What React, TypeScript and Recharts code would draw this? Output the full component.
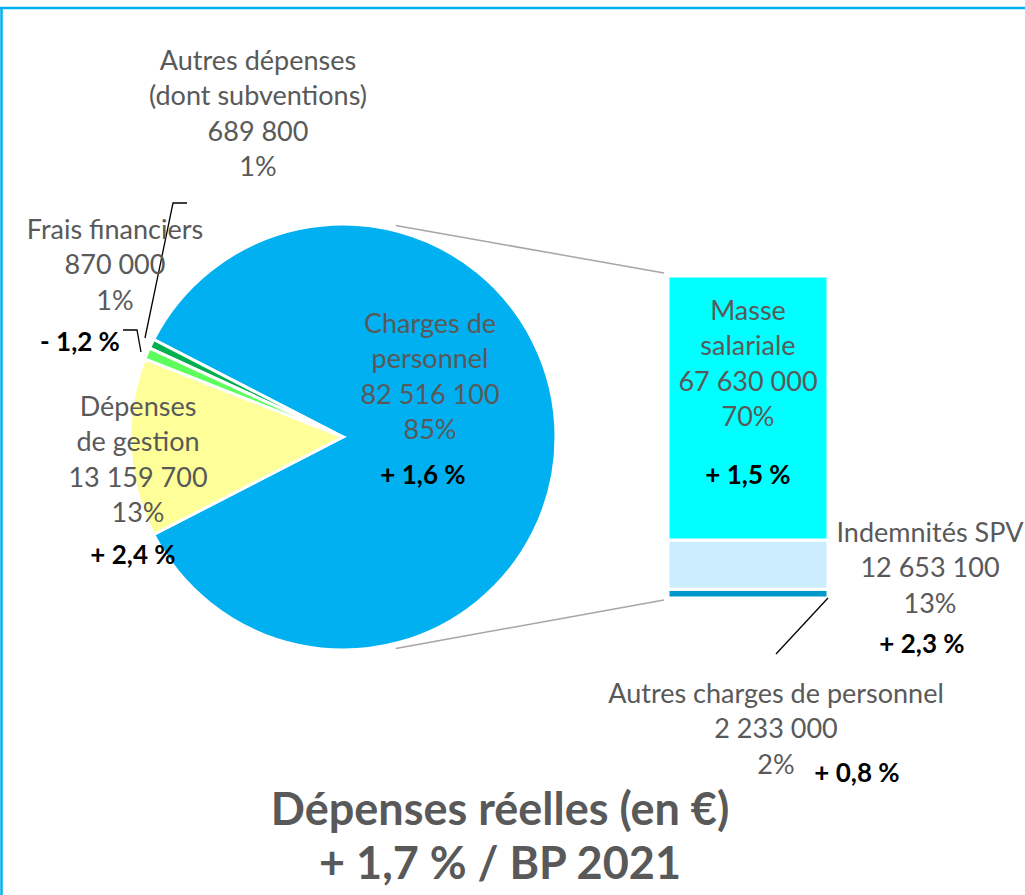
import React from 'react'
import { PieChart, Pie, Cell, BarChart, Bar, XAxis, YAxis } from 'recharts'

// pie: main breakdown
const pieNames = ['Charges de personnel', 'Autres dépenses', 'Frais financiers', 'Dépenses de gestion']
const pieValues = [82516100, 689800, 870000, 13159700]
const pieColors = ['#00B0F0', '#00B050', '#5CFF5C', '#FFFF99']

// bar: detail of "Charges de personnel"
const barNames = ['Autres charges de personnel', 'Indemnités SPV', 'Masse salariale']
const barValues = [2233000, 12653100, 67630000]
const barColors = ['#0099CC', '#CCECFF', '#00FFFF']

// label texts
const pieLabelLines = [
  ['Charges de', 'personnel', '82 516 100', '85%'],
  ['Autres dépenses', '(dont subventions)', '689 800', '1%'],
  ['Frais financiers', '870 000', '1%'],
  ['Dépenses', 'de gestion', '13 159 700', '13%'],
]
const pieEvolutions = ['+ 1,6 %', '', '- 1,2 %', '+ 2,4 %']
const barLabelLines = [
  ['Autres charges de personnel', '2 233 000', '2%'],
  ['Indemnités SPV', '12 653 100', '13%'],
  ['Masse', 'salariale', '67 630 000', '70%'],
]
const barEvolutions = ['+ 0,8 %', '+ 2,3 %', '+ 1,5 %']
const titleLines = ['Dépenses réelles (en €)', '+ 1,7 % / BP 2021']

const W = 1025
const H = 895
const CX = 343
const CY = 437
const R = 213
const BAR_X = 668
const BAR_Y = 276
const BAR_W = 160
const BAR_H = 322

const total = pieValues.reduce((a, b) => a + b, 0)
const mainSweep = (pieValues[0] / total) * 360
const START = -mainSweep / 2

const pieData = pieNames.map((name, i) => ({ name, value: pieValues[i] }))
const barData = [
  barNames.reduce((acc: any, n, i) => {
    acc['v' + i] = barValues[i]
    return acc
  }, { name: 'Charges de personnel' }),
]

// where the label blocks sit (centre x, first line y)
const pieLabelPos = [
  { x: 430, y: 322, ex: 423, ey: 474 },
  { x: 258, y: 59, ex: 0, ey: 0 },
  { x: 115, y: 228, ex: 80, ey: 341 },
  { x: 138, y: 405, ex: 133, ey: 554 },
]
const barLabelPos = [
  { x: 776, y: 692, ex: 857, ey: 772 },
  { x: 930, y: 531, ex: 922, ey: 643 },
  { x: 748, y: 309, ex: 748, ey: 474 },
]
const LINE = 35.5

const textGray = '#595959'
const font = 'Lato, "Open Sans", sans-serif'

function Block({ x, y, lines }: { x: number; y: number; lines: string[] }) {
  return (
    <>
      {lines.map((t, i) => (
        <text key={i} x={x} y={y + i * LINE} textAnchor="middle" dominantBaseline="central"
          fontSize={27} fill={textGray} fontFamily={font}>
          {t}
        </text>
      ))}
    </>
  )
}

function Evo({ x, y, t }: { x: number; y: number; t: string }) {
  if (!t) return null
  return (
    <text x={x} y={y} textAnchor="middle" dominantBaseline="central" fontSize={26}
      fontWeight="bold" fill="#000" fontFamily={font}>
      {t}
    </text>
  )
}

function Overlay() {
  // connector lines from pie edge to bar corners
  const a = (76 * Math.PI) / 180
  const rr = R + 5
  const p1 = { x: CX + rr * Math.cos(a), y: CY - rr * Math.sin(a) }
  const p2 = { x: CX + rr * Math.cos(a), y: CY + rr * Math.sin(a) }
  return (
    <svg width={W} height={H} style={{ position: 'absolute', left: 0, top: 0 }}>
      <line x1={0} y1={8} x2={W} y2={8} stroke="#00B0F0" strokeWidth={2.5} />
      <line x1={1.5} y1={8} x2={1.5} y2={H} stroke="#00B0F0" strokeWidth={2.5} />
      <line x1={p1.x} y1={p1.y} x2={BAR_X - 4} y2={BAR_Y - 3} stroke="#A6A6A6" strokeWidth={1.5} />
      <line x1={p2.x} y1={p2.y} x2={BAR_X - 4} y2={BAR_Y + BAR_H + 2} stroke="#A6A6A6" strokeWidth={1.5} />
      {/* leader lines */}
      <polyline points="187,203 173,203 145,338" fill="none" stroke="#000" strokeWidth={1.3} />
      <polyline points="123,330 137,330 141,352" fill="none" stroke="#000" strokeWidth={1.3} />
      <line x1={BAR_X + BAR_W} y1={BAR_Y + BAR_H} x2={776} y2={654} stroke="#000" strokeWidth={1.3} />
      {pieLabelLines.map((lines, i) => (
        <g key={'p' + i}>
          <Block x={pieLabelPos[i].x} y={pieLabelPos[i].y} lines={lines} />
          <Evo x={pieLabelPos[i].ex} y={pieLabelPos[i].ey} t={pieEvolutions[i]} />
        </g>
      ))}
      {barLabelLines.map((lines, i) => (
        <g key={'b' + i}>
          <Block x={barLabelPos[i].x} y={barLabelPos[i].y} lines={lines} />
          <Evo x={barLabelPos[i].ex} y={barLabelPos[i].ey} t={barEvolutions[i]} />
        </g>
      ))}
      {titleLines.map((t, i) => (
        <text key={t} x={500} y={808 + i * 54} textAnchor="middle" dominantBaseline="central"
          fontSize={45} fontWeight="bold" fill={textGray} fontFamily={font}>
          {t}
        </text>
      ))}
    </svg>
  )
}

export default function App() {
  return (
    <div style={{ position: 'absolute', left: 0, top: 0, width: W, height: H, background: '#fff', overflow: 'hidden' }}>
      <div style={{ position: 'absolute', left: 0, top: 0 }}>
        <PieChart width={W} height={H} margin={{ top: 0, right: 0, bottom: 0, left: 0 }}>
          <Pie
            data={pieData}
            dataKey="value"
            cx={CX}
            cy={CY}
            outerRadius={R}
            startAngle={START}
            endAngle={START + 360}
            stroke="#fff"
            strokeWidth={3}
            isAnimationActive={false}
          >
            {pieData.map((d, i) => (
              <Cell key={d.name} fill={pieColors[i]} />
            ))}
          </Pie>
        </PieChart>
      </div>
      <div style={{ position: 'absolute', left: BAR_X, top: BAR_Y }}>
        <BarChart width={BAR_W} height={BAR_H} data={barData} margin={{ top: 0, right: 0, bottom: 0, left: 0 }}
          barCategoryGap={0}>
          <XAxis dataKey="name" hide />
          <YAxis hide domain={[0, pieValues[0]]} />
          {barNames.map((n, i) => (
            <Bar key={n} dataKey={'v' + i} stackId="s" fill={barColors[i]} stroke="#fff" strokeWidth={3}
              isAnimationActive={false} />
          ))}
        </BarChart>
      </div>
      <Overlay />
    </div>
  )
}
